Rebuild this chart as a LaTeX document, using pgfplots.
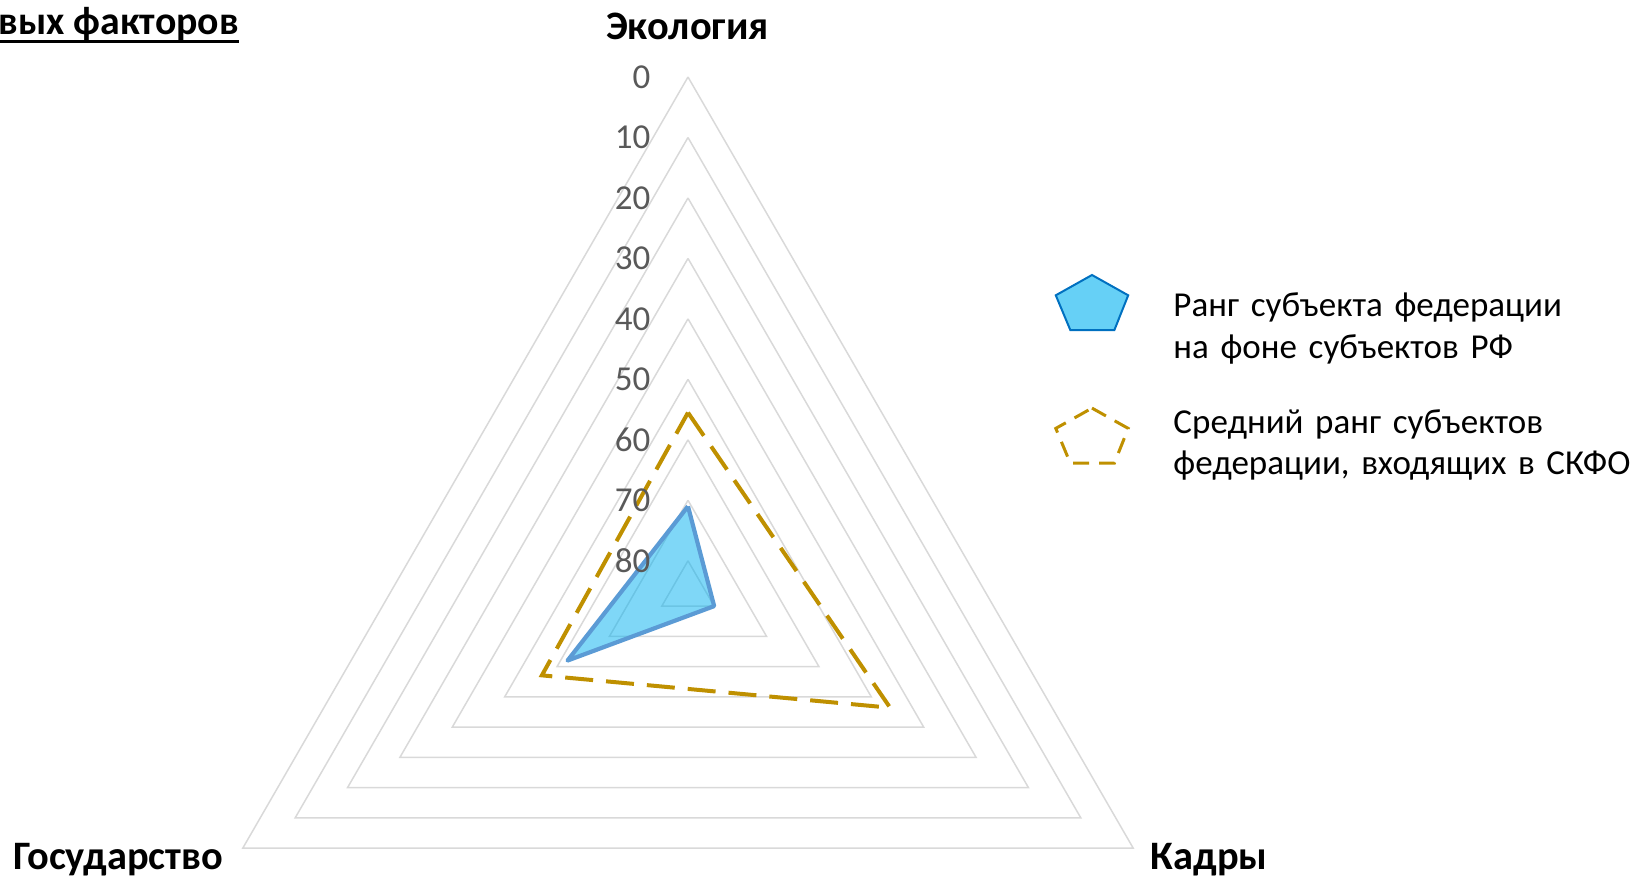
\documentclass[border=0pt]{standalone}
\usepackage{pgfplots}
\pgfplotsset{compat=1.18}
\usepackage{pgfplotstable}
\usepgfplotslibrary{polar}
\usepackage{fontspec}
\setmainfont{Carlito}
\definecolor{gridc}{HTML}{D9D9D9}
\definecolor{tickc}{HTML}{595959}
\definecolor{blueline}{HTML}{5B9BD5}
\definecolor{bluefill}{HTML}{00B0F0}
\definecolor{gold}{HTML}{BF9000}
\definecolor{legblue}{HTML}{0070C0}
\newsavebox\titlebox

% rank of the region (lower is better), max rank = 85 at the centre
% angle: 90 = Экология, 330 = Кадры, 210 = Государство
\pgfplotstableread{
angle rank avg
90  71 55.5
330 80 46.4
210 62 57.1
90  71 55.5
}\ranks

\begin{document}
\begin{tikzpicture}
\useasboundingbox (-344bp,-143.5bp) rectangle (473bp,295.5bp);
\begin{scope}[overlay]
\begin{polaraxis}[
  at={(0,0)}, anchor=center,
  scale only axis, width=514bp, height=514bp,
  xmin=0, xmax=360, ymin=0, ymax=85,
  hide axis, clip=false,
  legend cell align=left,
  legend style={at={(0.5,0.5)}, anchor=north west, xshift=183.15bp, yshift=158.5bp,
    draw=none, fill=none, inner sep=0pt, outer sep=0pt,
    row sep=37.8bp, column sep=21.9bp,
    font=\fontsize{17.5bp}{20.85bp}\selectfont,
    nodes={inner sep=0pt, outer sep=0pt, text width=232bp, align=left}},
]
\pgfplotsinvokeforeach{0,10,...,80}{
  \addplot[gridc, line width=0.75bp, forget plot] table[x=angle, y expr=85-#1] {\ranks};
}
\addplot[draw=blueline, line width=2.1bp, fill=bluefill, fill opacity=0.5, line join=round, forget plot]
  table[x=angle, y expr=85-\thisrow{rank}] {\ranks};
\addplot[draw=gold, line width=2bp, dash pattern=on 14bp off 6.5bp, forget plot]
  table[x=angle, y expr=85-\thisrow{avg}] {\ranks};

\addlegendimage{legend image code/.code={\draw[draw=legblue, fill=bluefill!60, line width=1bp]
  (18.1bp,15.55bp) -- (36.2bp,5.4bp) -- (29.3bp,-11.95bp) -- (7.25bp,-11.95bp) -- (0bp,5.4bp) -- cycle;}}
\addlegendentry{Ранг субъекта федерации\\на фоне субъектов РФ}
\addlegendimage{legend image code/.code={\draw[draw=gold, line width=1.5bp, dash pattern=on 8bp off 5bp]
  (18.1bp,7.35bp) -- (36.2bp,-2.8bp) -- (29.3bp,-20.15bp) -- (7.25bp,-20.15bp) -- (0bp,-2.8bp) -- cycle;}}
\addlegendentry{Средний ранг субъектов\\федерации, входящих в СКФО}

\tikzset{tl/.style={anchor=east, inner sep=0pt, xshift=-18.65bp, text=tickc, font=\fontsize{17.5bp}{20bp}\selectfont}}
\node[tl] at (axis cs:90,85) {0};
\node[tl] at (axis cs:90,75) {10};
\node[tl] at (axis cs:90,65) {20};
\node[tl] at (axis cs:90,55) {30};
\node[tl] at (axis cs:90,45) {40};
\node[tl] at (axis cs:90,35) {50};
\node[tl] at (axis cs:90,25) {60};
\node[tl] at (axis cs:90,15) {70};
\node[tl] at (axis cs:90,5) {80};
\end{polaraxis}
\end{scope}
\tikzset{cat/.style={anchor=base, inner sep=0pt, font=\fontsize{20.2bp}{23bp}\selectfont\bfseries}}
\node[cat] at (-0.25bp,275.5bp) {Экология};
\node[cat] at (260.6bp,-139.15bp) {Кадры};
\node[cat] at (-284.85bp,-139.15bp) {Государство};
\node[anchor=base east, inner sep=0pt, font=\fontsize{19.9bp}{23bp}\selectfont\bfseries] at (-224.35bp,278bp)
  {\sbox\titlebox{вых факторов}\usebox\titlebox\llap{\rule[-3.85bp]{\wd\titlebox}{1.35bp}}};
\end{tikzpicture}
\end{document}
